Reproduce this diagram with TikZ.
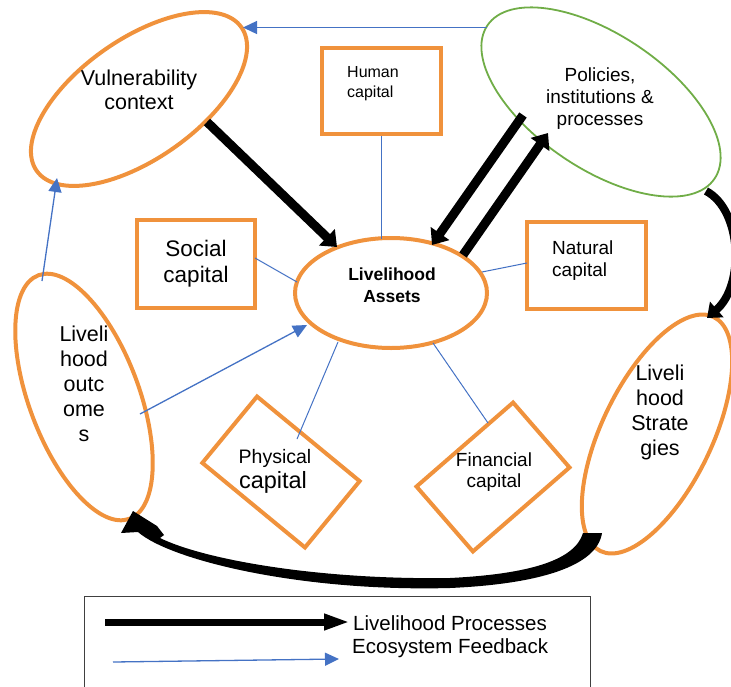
\documentclass[tikz,border=0pt]{standalone}
\usepackage{fontspec}
\setmainfont{Liberation Sans}
\usetikzlibrary{shapes.geometric,arrows.meta}
\definecolor{orng}{RGB}{240,146,60}
\definecolor{grn}{RGB}{112,173,71}
\definecolor{blu}{RGB}{68,114,196}
\begin{document}
\begin{tikzpicture}[x=1pt,y=-1pt,
  oell/.style={draw=orng, line width=4pt, ellipse, inner sep=0pt},
  gell/.style={draw=grn, line width=1.8pt, ellipse, inner sep=0pt},
  obox/.style={draw=orng, line width=4pt, rectangle, inner sep=0pt},
  txt/.style={inner sep=0pt, align=center},
  link/.style={draw=blu, line width=1pt},
  feed/.style={draw=blu, line width=1.3pt, -{Triangle[length=14pt,width=13pt]}},
  proc/.style={draw=black, line width=9pt, -{Triangle[length=14pt,width=22pt]}},
]
\useasboundingbox (0,0) rectangle (731,686);

% shapes
\node[oell, minimum width=250pt, minimum height=120pt, rotate=35] (vul) at (139,99) {};
\node[gell, minimum width=274pt, minimum height=134pt, rotate=-34] (pol) at (601,102) {};
\node[oell, minimum width=192pt, minimum height=110pt] (assets) at (391,293) {};
\node[oell, minimum width=110pt, minimum height=260pt, rotate=20.5] (outc) at (84,397) {};
\node[oell, minimum width=110pt, minimum height=260pt, rotate=-25.8] (strat) at (657,434) {};
\node[obox, minimum width=119pt, minimum height=86pt] (human) at (381.5,91) {};
\node[obox, minimum width=118pt, minimum height=88pt] (social) at (196,264) {};
\node[obox, minimum width=119pt, minimum height=87pt] (natural) at (586.5,265.5) {};
\node[obox, minimum width=133pt, minimum height=86pt, rotate=-39.5] (phys) at (281,472) {};
\node[obox, minimum width=128pt, minimum height=86pt, rotate=41] (fin) at (493,477) {};
\node[draw=black!75, line width=1pt, minimum width=506pt, minimum height=110pt, inner sep=0pt] (legend) at (337,651) {};

% texts
\node[txt, font=\fontsize{21.5}{24}\selectfont] (vultxt) at (139,90) {Vulnerability\\context};
\node[txt, font=\fontsize{19}{22}\selectfont] (poltxt) at (600,99) {Policies,\\institutions \&\\processes};
\node[txt, font=\fontsize{17.5}{22}\selectfont\bfseries] (assettxt) at (392,285) {Livelihood\\Assets};
\node[txt, font=\fontsize{21.5}{25}\selectfont] (outctxt) at (84,384) {Liveli\\hood\\outc\\ome\\s};
\node[txt, font=\fontsize{21.5}{25}\selectfont] (strattxt) at (660,412) {Liveli\\hood\\Strate\\gies};
\node[txt, align=left, anchor=west, font=\fontsize{16}{20}\selectfont] (humantxt) at (347,84) {Human\\capital};
\node[txt, font=\fontsize{22.5}{26}\selectfont] (socialtxt) at (196,264) {Social\\capital};
\node[txt, align=left, anchor=west, font=\fontsize{19}{22.7}\selectfont] (naturaltxt) at (552,260.5) {Natural\\capital};
\node[inner sep=0pt, anchor=base, font=\fontsize{19.5}{22}\selectfont] (phys1) at (275,463) {Physical};
\node[inner sep=0pt, anchor=base, font=\fontsize{23.5}{26}\selectfont] (phys2) at (273,488) {capital};
\node[inner sep=0pt, anchor=base, font=\fontsize{19}{22}\selectfont] (fin1) at (494,466) {Financial};
\node[inner sep=0pt, anchor=base, font=\fontsize{19}{22}\selectfont] (fin2) at (494,487) {capital};
\node[inner sep=0pt, anchor=base west, font=\fontsize{20.5}{24}\selectfont] (leg1) at (353,630) {Livelihood Processes};
\node[inner sep=0pt, anchor=base west, font=\fontsize{20.5}{24}\selectfont] (leg2) at (352,653) {Ecosystem Feedback};

% connector end points
\coordinate (polV) at (487,27.5);
\coordinate (vulP) at (243,27.5);
\coordinate (outV) at (42,281);
\coordinate (vulO) at (57,178);
\coordinate (outA) at (140,414);
\coordinate (assO) at (307,325);
\coordinate (assH) at (381.5,239);
\coordinate (socA) at (255,258);
\coordinate (assS) at (297,282);
\coordinate (natA) at (527,263);
\coordinate (assN) at (482,272);
\coordinate (assPh) at (338,342);
\coordinate (physA) at (297,439);
\coordinate (assF) at (433,343);
\coordinate (finA) at (488,423);
\coordinate (vulA) at (207,122);
\coordinate (assV) at (337,247);
\coordinate (polA) at (523,115);
\coordinate (assP) at (432,245);
\coordinate (assP2) at (463,255);
\coordinate (polA2) at (548,133);
\coordinate (polS) at (706,191);
\coordinate (stratP) at (707,318);
\coordinate (stratO) at (592.5,533);
\coordinate (outS) at (133,511);
\coordinate (legA1) at (105,622);
\coordinate (legA2) at (350,622);
\coordinate (legB1) at (113,662);
\coordinate (legB2) at (339,659);

% ecosystem feedback (blue)
\draw[feed] (polV) -- (vulP);
\draw[feed] (outV) -- (vulO);
\draw[feed] (outA) -- (assO);
\draw[link] (human.south) -- (assH);
\draw[link] (socA) -- (assS);
\draw[link] (natA) -- (assN);
\draw[link] (assPh) -- (physA);
\draw[link] (assF) -- (finA);

% livelihood processes (black)
\draw[proc] (vulA) -- (assV);
\draw[proc] (polA) -- (assP);
\draw[proc] (assP2) -- (polA2);
\draw[line width=8pt, -{Triangle[length=13pt,width=20pt]}] (polS) .. controls (742,210) and (745,285) .. (stratP);

% tapered bottom arrow: strategies -> outcomes (filled outline, tip at outS)
\fill[black] (outS) -- (121,533) -- (138,532)
  .. controls (170,560) and (300,592) .. (450,588)
  .. controls (540,584) and (597,566) .. ([xshift=9.5pt]stratO)
  -- ([xshift=-9.5pt]stratO)
  .. controls (575,560) and (530,574) .. (450,578)
  .. controls (320,580) and (205,560) .. (160,538)
  -- (164,535) -- (157,526) -- cycle;

% legend arrows
\draw[line width=7pt, -{Triangle[length=26pt,width=15pt]}] (legA1) -- (legA2);
\draw[feed] (legB1) -- (legB2);
\end{tikzpicture}
\end{document}
